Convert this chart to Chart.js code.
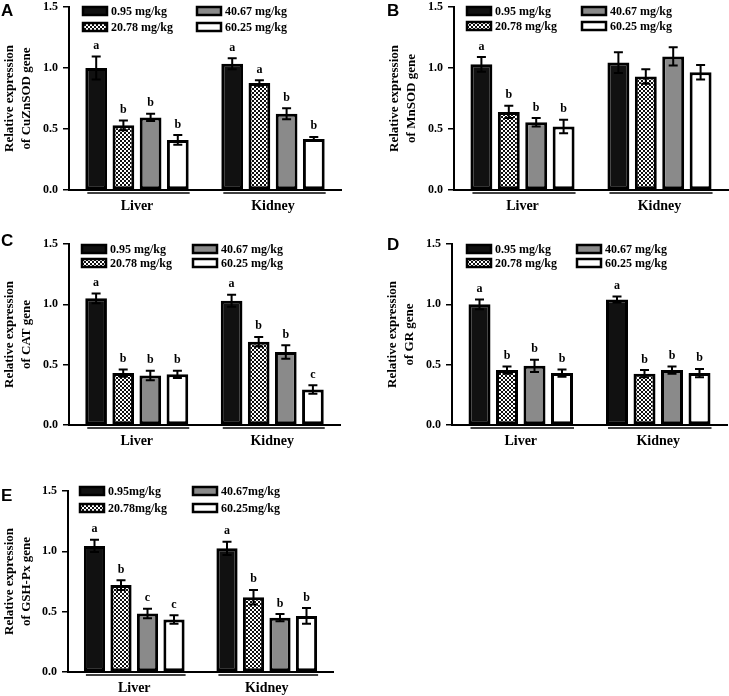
<!DOCTYPE html>
<html>
<head>
<meta charset="utf-8">
<script src="https://cdn.jsdelivr.net/npm/chart.js@4.4.0/dist/chart.umd.min.js"></script>
<style>
  html, body { margin: 0; padding: 0; background: #fff; }
  body { width: 729px; height: 696px; position: relative; overflow: hidden; }
  canvas { position: absolute; }
</style>
</head>
<body>
<canvas id="cA" width="365" height="225" style="left:0;top:0"></canvas>
<canvas id="cB" width="344" height="225" style="left:385px;top:0"></canvas>
<canvas id="cC" width="365" height="230" style="left:0;top:225px"></canvas>
<canvas id="cD" width="346" height="230" style="left:383px;top:225px"></canvas>
<canvas id="cE" width="365" height="241" style="left:0;top:455px"></canvas>
<script>
// === Datos ===
const organos = ['Liver', 'Kidney'];
const dosis = ['0.95 mg/kg', '20.78 mg/kg', '40.67 mg/kg', '60.25 mg/kg'];
const dosisE = ['0.95mg/kg', '20.78mg/kg', '40.67mg/kg', '60.25mg/kg'];
const yTicks = [0, 0.5, 1.0, 1.5];

// medias por dosis: [Liver, Kidney]
const cuznsodMedia = [[1.00, 1.035], [0.53, 0.877], [0.595, 0.625], [0.41, 0.418]];
const cuznsodErr   = [[0.095, 0.045], [0.04, 0.023], [0.03, 0.045], [0.04, 0.017]];
const cuznsodLetra = [['a', 'a'], ['b', 'a'], ['b', 'b'], ['b', 'b']];

const mnsodMedia = [[1.03, 1.045], [0.64, 0.93], [0.555, 1.095], [0.52, 0.965]];
const mnsodErr   = [[0.06, 0.085], [0.05, 0.06], [0.035, 0.075], [0.055, 0.06]];
const mnsodLetra = [['a', ''], ['b', ''], ['b', ''], ['b', '']];

const catMedia = [[1.05, 1.03], [0.43, 0.69], [0.41, 0.605], [0.42, 0.295]];
const catErr   = [[0.04, 0.05], [0.03, 0.04], [0.04, 0.055], [0.03, 0.035]];
const catLetra = [['a', 'a'], ['b', 'b'], ['b', 'b'], ['b', 'c']];

const grMedia = [[1.00, 1.04], [0.455, 0.425], [0.49, 0.455], [0.43, 0.43]];
const grErr   = [[0.04, 0.025], [0.03, 0.03], [0.05, 0.03], [0.03, 0.035]];
const grLetra = [['a', 'a'], ['b', 'b'], ['b', 'b'], ['b', 'b']];

const gshMedia = [[1.045, 1.025], [0.72, 0.62], [0.485, 0.45], [0.435, 0.465]];
const gshErr   = [[0.05, 0.055], [0.04, 0.06], [0.04, 0.03], [0.035, 0.065]];
const gshLetra = [['a', 'a'], ['b', 'b'], ['c', 'b'], ['c', 'b']];

// === Estilos ===
const SERIF = '"Liberation Serif", "Times New Roman", serif';
const SANS = '"Liberation Sans", Arial, sans-serif';

function patronCuadros() {
  const c = document.createElement('canvas');
  c.width = 4; c.height = 4;
  const g = c.getContext('2d');
  g.fillStyle = '#fff'; g.fillRect(0, 0, 4, 4);
  g.fillStyle = '#111'; g.fillRect(0, 0, 2, 2); g.fillRect(2, 2, 2, 2);
  return g.createPattern(c, 'repeat');
}
const rellenos = ['#111', null, '#8a8a8a', '#fff'];

// plugin: barras de error, letras, subrayado de grupo, leyenda y letra de panel
const extras = {
  id: 'extras',
  afterDatasetsDraw(chart) {
    const p = chart.options.plugins.extras;
    const ctx = chart.ctx;
    const y = chart.scales.y;
    const area = chart.chartArea;
    ctx.save();
    // barras de error + letras
    chart.data.datasets.forEach((ds, i) => {
      const meta = chart.getDatasetMeta(i);
      meta.data.forEach((el, j) => {
        const m = ds.data[j], e = p.err[i][j];
        const yt = y.getPixelForValue(m + e), yb = y.getPixelForValue(m - e);
        ctx.strokeStyle = '#000';
        ctx.lineWidth = 2;
        ctx.beginPath();
        ctx.moveTo(el.x, yt); ctx.lineTo(el.x, yb);
        ctx.moveTo(el.x - 4.5, yt); ctx.lineTo(el.x + 4.5, yt);
        ctx.moveTo(el.x - 4.5, yb); ctx.lineTo(el.x + 4.5, yb);
        ctx.stroke();
        const l = p.letras[i][j];
        if (l) {
          ctx.fillStyle = '#000';
          ctx.font = 'bold 12px ' + SERIF;
          ctx.textAlign = 'center';
          ctx.textBaseline = 'alphabetic';
          ctx.fillText(l, el.x, yt - 7.5);
        }
      });
    });
    // subrayado de grupo
    const m0 = chart.getDatasetMeta(0), m3 = chart.getDatasetMeta(3);
    ctx.lineWidth = 1.5;
    ctx.strokeStyle = '#000';
    for (let j = 0; j < organos.length; j++) {
      const a = m0.data[j], b = m3.data[j];
      ctx.beginPath();
      ctx.moveTo(a.x - a.width / 2 + 2, area.bottom + 3);
      ctx.lineTo(b.x + b.width / 2 + 1, area.bottom + 3);
      ctx.stroke();
    }
    // leyenda (2 columnas)
    const orden = [[0, 0], [1, 0], [0, 1], [1, 1]]; // [fila, columna] por dosis
    chart.data.datasets.forEach((ds, i) => {
      const [fila, col] = orden[i];
      const bx = area.left + p.legX[col], by = area.top + p.legY[fila];
      ctx.fillStyle = ds.backgroundColor;
      ctx.fillRect(bx, by, 24, 8);
      ctx.lineWidth = 2.5;
      ctx.strokeStyle = '#000';
      ctx.strokeRect(bx, by, 24, 8);
      ctx.fillStyle = '#000';
      ctx.font = 'bold 12px ' + SERIF;
      ctx.textAlign = 'left';
      ctx.textBaseline = 'middle';
      ctx.fillText(ds.label, bx + 28, by + 4.5);
    });
    // letra del panel
    ctx.font = 'bold 17px ' + SANS;
    ctx.textAlign = 'left';
    ctx.textBaseline = 'top';
    ctx.fillText(p.panel, p.panelX, p.panelY);
    ctx.restore();
  }
};

function hacerPanel(cfg) {
  const cnv = document.getElementById(cfg.id);
  const W = cnv.width, H = cnv.height;
  const etiquetas = cfg.etiquetas || dosis;
  const datasets = etiquetas.map((lab, i) => ({
    label: lab,
    data: cfg.media[i],
    backgroundColor: rellenos[i] || patronCuadros(),
    borderColor: '#000',
    borderWidth: 3,
    borderSkipped: false,
    categoryPercentage: 0.8,
    barPercentage: 0.8
  }));
  return new Chart(cnv, {
    type: 'bar',
    data: { labels: organos, datasets },
    plugins: [extras],
    options: {
      responsive: false,
      animation: false,
      devicePixelRatio: 1,
      layout: { padding: { top: cfg.top, right: W - cfg.right, bottom: 0, left: 0 } },
      plugins: {
        legend: { display: false },
        tooltip: { enabled: false },
        extras: {
          err: cfg.err, letras: cfg.letras, panel: cfg.panel,
          panelX: cfg.panelX, panelY: cfg.panelY,
          legX: cfg.legX, legY: cfg.legY
        }
      },
      scales: {
        x: {
          grid: { display: false },
          border: { display: true, color: '#000', width: 2 },
          ticks: { color: '#000', padding: 0, font: { family: SERIF, size: 14, weight: 'bold' } },
          afterFit(s) { s.height = H - cfg.bottom; s.paddingLeft = 0; s.paddingRight = 0; }
        },
        y: {
          min: 0, max: 1.5,
          afterBuildTicks(s) { s.ticks = yTicks.map(v => ({ value: v })); },
          grid: { display: true, drawOnChartArea: false, drawTicks: true, tickLength: 6, color: '#000', lineWidth: 1.5 },
          border: { display: true, color: '#000', width: 2 },
          ticks: {
            color: '#000', padding: 5,
            font: { family: SERIF, size: 12, weight: 'bold' },
            callback: v => Number(v).toFixed(1)
          },
          title: {
            display: true,
            text: ['Relative expression', cfg.gen],
            color: '#000',
            padding: { top: 1, bottom: 0 },
            font: { family: SERIF, size: 13, weight: 'bold', lineHeight: 1.3 }
          },
          afterFit(s) { s.width = cfg.left; s.paddingTop = 0; s.paddingBottom = 0; }
        }
      }
    }
  });
}

document.addEventListener('DOMContentLoaded', () => {
  hacerPanel({ id: 'cA', panel: 'A', panelX: 1, panelY: 3, left: 69, right: 341, top: 7, bottom: 190,
    media: cuznsodMedia, err: cuznsodErr, letras: cuznsodLetra, gen: 'of CuZnSOD gene',
    legX: [14, 128], legY: [0, 16] });
  hacerPanel({ id: 'cB', panel: 'B', panelX: 2, panelY: 3, left: 69, right: 343, top: 7, bottom: 190,
    media: mnsodMedia, err: mnsodErr, letras: mnsodLetra, gen: 'of MnSOD gene',
    legX: [13, 128], legY: [0, 15] });
  hacerPanel({ id: 'cC', panel: 'C', panelX: 1, panelY: 8, left: 69, right: 340, top: 19, bottom: 200,
    media: catMedia, err: catErr, letras: catLetra, gen: 'of CAT gene',
    legX: [13, 124], legY: [1, 15] });
  hacerPanel({ id: 'cD', panel: 'D', panelX: 4, panelY: 12, left: 69, right: 344, top: 19, bottom: 200,
    media: grMedia, err: grErr, letras: grLetra, gen: 'of GR gene',
    legX: [15, 125], legY: [1, 15] });
  hacerPanel({ id: 'cE', panel: 'E', panelX: 1, panelY: 33, left: 68, right: 333, top: 36, bottom: 217,
    media: gshMedia, err: gshErr, letras: gshLetra, gen: 'of GSH-Px gene', etiquetas: dosisE,
    legX: [12, 125], legY: [-4, 13] });
});
</script>
</body>
</html>
